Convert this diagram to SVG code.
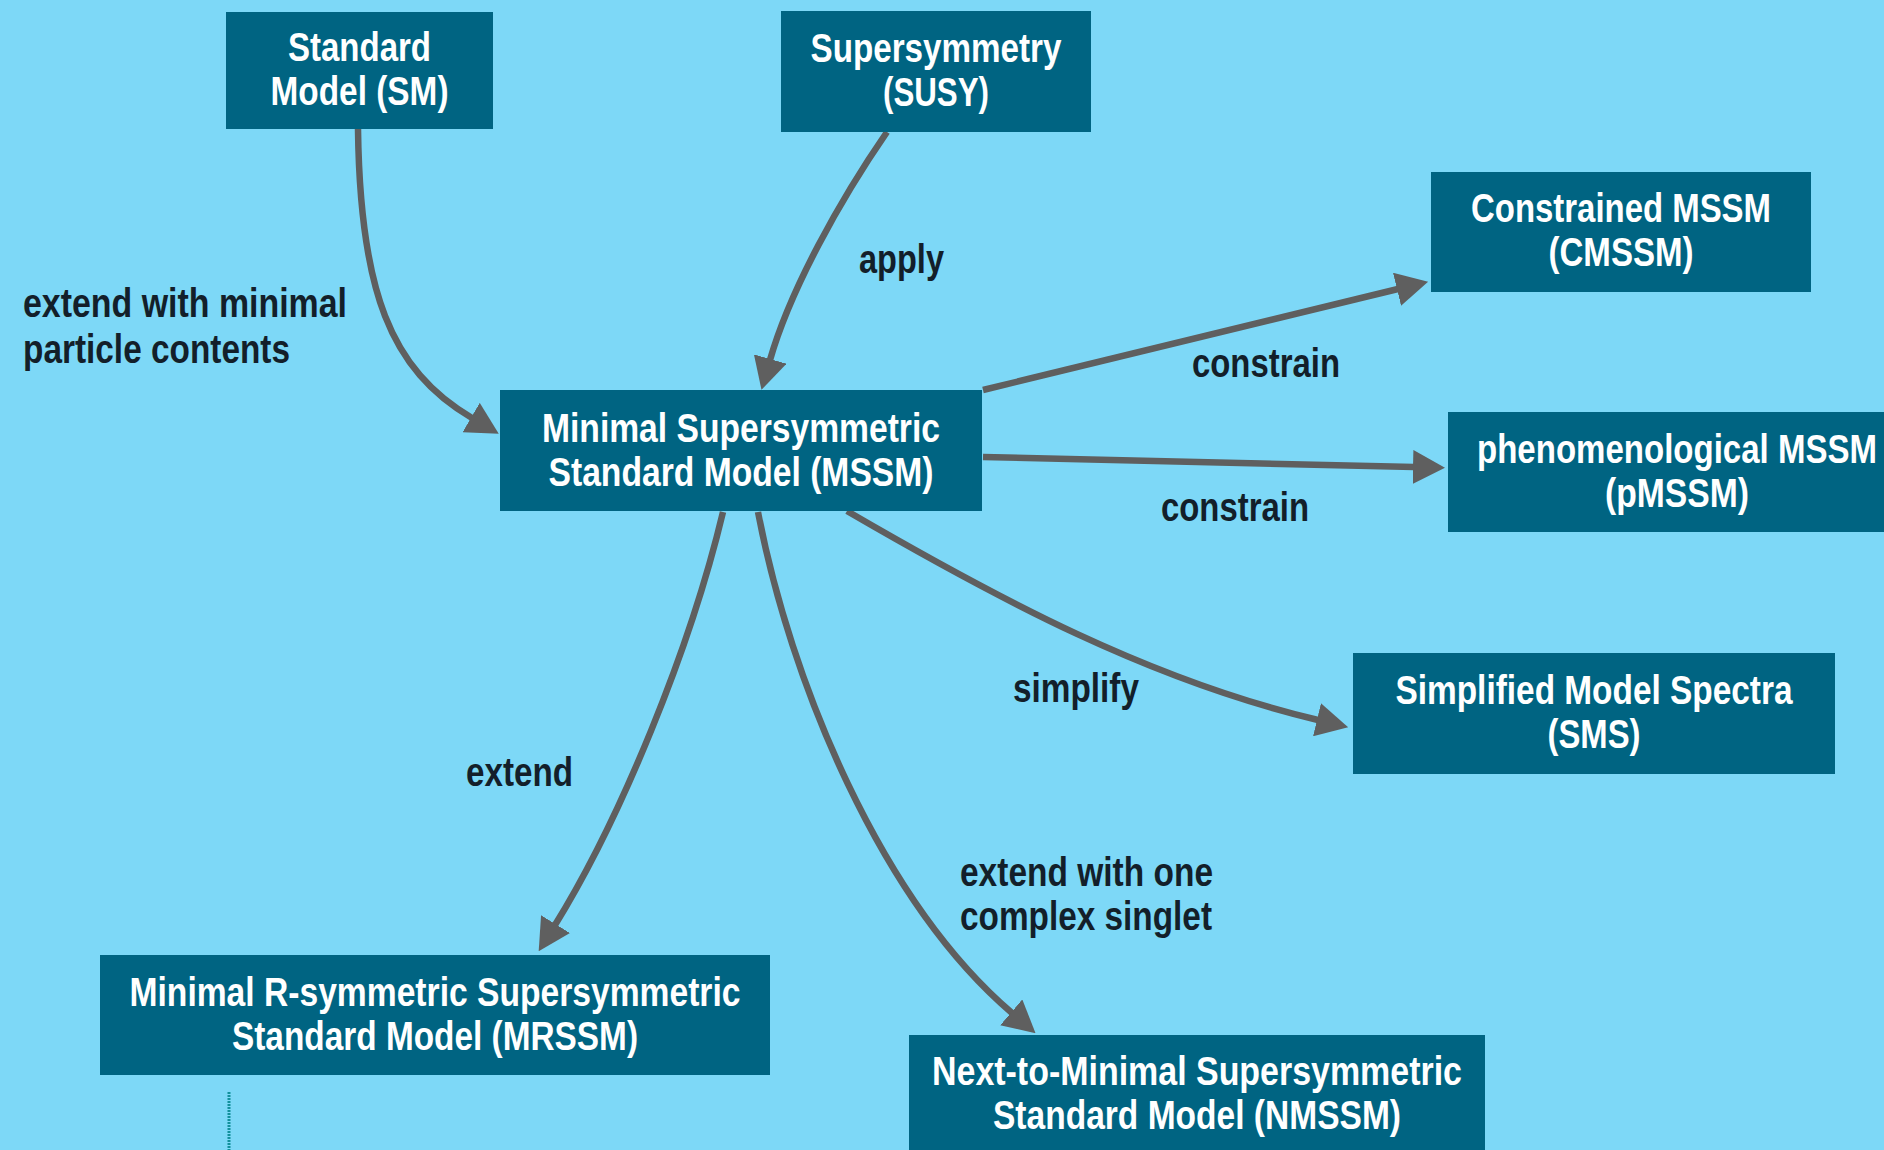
<svg xmlns="http://www.w3.org/2000/svg" width="1884" height="1150" viewBox="0 0 1884 1150">
<style>
.node rect{fill:#006482;}
.node text{fill:#ffffff;font-family:"Liberation Sans",Arial,sans-serif;font-weight:bold;font-size:40px;text-anchor:middle;}
.lbl{fill:#131f2a;font-family:"Liberation Sans",Arial,sans-serif;font-weight:bold;font-size:40px;}
.edge{fill:none;stroke:#5f5f5f;stroke-width:6.5;marker-end:url(#ah);}
</style>
<defs>
<marker id="ah" viewBox="0 0 32 34" refX="1" refY="17" markerWidth="32" markerHeight="34" markerUnits="userSpaceOnUse" orient="auto">
<path d="M0,0 L32,17 L0,34 z" fill="#5f5f5f"/>
</marker>
</defs>
<rect x="0" y="0" width="1884" height="1150" fill="#7dd8f7"/>
<g id="connectors">
<path class="edge" d="M358,129 C360,290 390,370 472,418"/>
<path class="edge" d="M887,132 C840,200 790,290 770,360"/>
<path class="edge" d="M983,390 L1398,289"/>
<path class="edge" d="M983,457 L1414,467"/>
<path class="edge" d="M847,511 C1000,600 1150,680 1318,720"/>
<path class="edge" d="M723,512 C690,650 620,820 555,925"/>
<path class="edge" d="M758,512 C790,680 880,900 1012,1013"/>
</g>
<g id="labels">
<text class="lbl" x="23" y="317" textLength="324" lengthAdjust="spacingAndGlyphs">extend with minimal</text>
<text class="lbl" x="23" y="363" textLength="267" lengthAdjust="spacingAndGlyphs">particle contents</text>
<text class="lbl" x="859" y="273" textLength="85" lengthAdjust="spacingAndGlyphs">apply</text>
<text class="lbl" x="1192" y="377" textLength="148" lengthAdjust="spacingAndGlyphs">constrain</text>
<text class="lbl" x="1161" y="521" textLength="148" lengthAdjust="spacingAndGlyphs">constrain</text>
<text class="lbl" x="1013" y="702" textLength="126" lengthAdjust="spacingAndGlyphs">simplify</text>
<text class="lbl" x="466" y="786" textLength="107" lengthAdjust="spacingAndGlyphs">extend</text>
<text class="lbl" x="960" y="886" textLength="253" lengthAdjust="spacingAndGlyphs">extend with one</text>
<text class="lbl" x="960" y="930" textLength="252" lengthAdjust="spacingAndGlyphs">complex singlet</text>
</g>
<g id="sm" class="node">
<rect x="226" y="12" width="267" height="117"/>
<text x="359.5" y="61" textLength="143" lengthAdjust="spacingAndGlyphs">Standard</text>
<text x="359.5" y="105" textLength="178" lengthAdjust="spacingAndGlyphs">Model (SM)</text>
</g>
<g id="susy" class="node">
<rect x="781" y="11" width="310" height="121"/>
<text x="936" y="62" textLength="251" lengthAdjust="spacingAndGlyphs">Supersymmetry</text>
<text x="936" y="106" textLength="106" lengthAdjust="spacingAndGlyphs">(SUSY)</text>
</g>
<g id="cmssm" class="node">
<rect x="1431" y="172" width="380" height="120"/>
<text x="1621" y="222" textLength="300" lengthAdjust="spacingAndGlyphs">Constrained MSSM</text>
<text x="1621" y="266" textLength="145" lengthAdjust="spacingAndGlyphs">(CMSSM)</text>
</g>
<g id="mssm" class="node">
<rect x="500" y="390" width="482" height="121"/>
<text x="741" y="442" textLength="398" lengthAdjust="spacingAndGlyphs">Minimal Supersymmetric</text>
<text x="741" y="486" textLength="385" lengthAdjust="spacingAndGlyphs">Standard Model (MSSM)</text>
</g>
<g id="pmssm" class="node">
<rect x="1448" y="412" width="460" height="120"/>
<text x="1677" y="463" textLength="400" lengthAdjust="spacingAndGlyphs">phenomenological MSSM</text>
<text x="1677" y="507" textLength="144" lengthAdjust="spacingAndGlyphs">(pMSSM)</text>
</g>
<g id="sms" class="node">
<rect x="1353" y="653" width="482" height="121"/>
<text x="1594" y="704" textLength="397" lengthAdjust="spacingAndGlyphs">Simplified Model Spectra</text>
<text x="1594" y="748" textLength="93" lengthAdjust="spacingAndGlyphs">(SMS)</text>
</g>
<g id="mrssm" class="node">
<rect x="100" y="955" width="670" height="120"/>
<text x="435" y="1006" textLength="611" lengthAdjust="spacingAndGlyphs">Minimal R-symmetric Supersymmetric</text>
<text x="435" y="1050" textLength="406" lengthAdjust="spacingAndGlyphs">Standard Model (MRSSM)</text>
</g>
<g id="nmssm" class="node">
<rect x="909" y="1035" width="576" height="125"/>
<text x="1197" y="1085" textLength="530" lengthAdjust="spacingAndGlyphs">Next-to-Minimal Supersymmetric</text>
<text x="1197" y="1129" textLength="408" lengthAdjust="spacingAndGlyphs">Standard Model (NMSSM)</text>
</g>
<line x1="229" y1="1092" x2="229" y2="1150" stroke="#12909c" stroke-width="3" stroke-dasharray="2 1"/>
</svg>
